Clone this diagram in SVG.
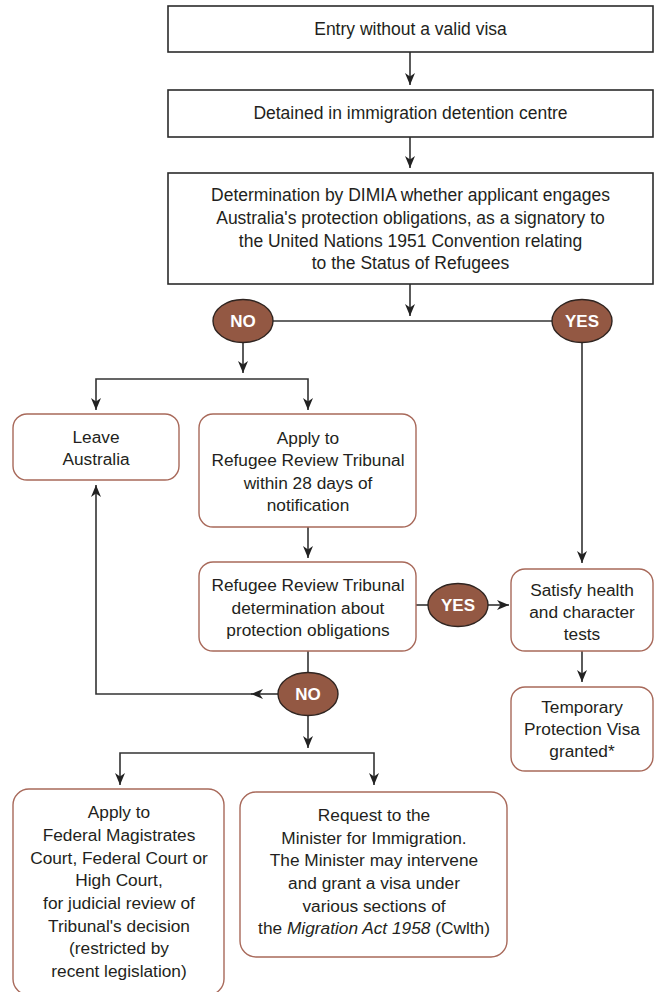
<svg xmlns="http://www.w3.org/2000/svg" width="664" height="992" viewBox="0 0 664 992">
<style>
  .box { fill: #ffffff; stroke: #2b2b2b; stroke-width: 1.6; }
  .rbox { fill: #ffffff; stroke: #a8695a; stroke-width: 1.4; }
  .oval { fill: #935843; stroke: #2f2420; stroke-width: 1.4; }
  .t { font-family: "Liberation Sans", Arial, sans-serif; font-size: 17.5px; fill: #231f20; text-anchor: middle; }
  .lt { font-family: "Liberation Sans", Arial, sans-serif; font-size: 17.3px; fill: #231f20; text-anchor: middle; }
  .ot { font-family: "Liberation Sans", Arial, sans-serif; font-size: 17px; font-weight: bold; fill: #ffffff; text-anchor: middle; }
  .ln { fill: none; stroke: #333333; stroke-width: 1.6; }
</style>
<defs>
  <marker id="ah" markerUnits="userSpaceOnUse" markerWidth="13" markerHeight="13" viewBox="0 0 13 13" refX="12" refY="6.5" orient="auto">
    <path d="M0,1.5 L12,6.5 L0,11.5 L3.5,6.5 z" fill="#222222"/>
  </marker>
</defs>

<g id="connectors">
  <path class="ln" d="M410,52 V85" marker-end="url(#ah)"/>
  <path class="ln" d="M410,137 V168" marker-end="url(#ah)"/>
  <path class="ln" d="M410,284 V316" marker-end="url(#ah)"/>
  <path class="ln" d="M273,321 H552"/>
  <path class="ln" d="M243,342 V373" marker-end="url(#ah)"/>
  <path class="ln" d="M200,379 H96 V410" marker-end="url(#ah)"/>
  <path class="ln" d="M200,379 H308 V410" marker-end="url(#ah)"/>
  <path class="ln" d="M582,342 V563" marker-end="url(#ah)"/>
  <path class="ln" d="M308,527 V558" marker-end="url(#ah)"/>
  <path class="ln" d="M416,605 H428"/>
  <path class="ln" d="M488,605 H509" marker-end="url(#ah)"/>
  <path class="ln" d="M582,651 V682" marker-end="url(#ah)"/>
  <path class="ln" d="M308,651 V672"/>
  <path class="ln" d="M278,694 H251" marker-end="url(#ah)"/>
  <path class="ln" d="M252,694 H96 V485" marker-end="url(#ah)"/>
  <path class="ln" d="M308,716 V748" marker-end="url(#ah)"/>
  <path class="ln" d="M250,753 H120 V785" marker-end="url(#ah)"/>
  <path class="ln" d="M250,753 H374 V785" marker-end="url(#ah)"/>
</g>

<g id="entry">
  <rect class="box" x="168" y="6" width="485" height="46"/>
  <text class="t" x="410.5" y="35">Entry without a valid visa</text>
</g>
<g id="detained">
  <rect class="box" x="168" y="90" width="485" height="47"/>
  <text class="t" x="410.5" y="119">Detained in immigration detention centre</text>
</g>
<g id="determination">
  <rect class="box" x="168" y="173" width="485" height="111"/>
  <text class="t" x="410.5" y="201">Determination by DIMIA whether applicant engages</text>
  <text class="t" x="410.5" y="224">Australia's protection obligations, as a signatory to</text>
  <text class="t" x="410.5" y="247">the United Nations 1951 Convention relating</text>
  <text class="t" x="410.5" y="269">to the Status of Refugees</text>
</g>
<g id="no1">
  <ellipse class="oval" cx="243" cy="321" rx="30" ry="21.5"/>
  <text class="ot" x="243" y="327">NO</text>
</g>
<g id="yes1">
  <ellipse class="oval" cx="582" cy="321" rx="30" ry="21.5"/>
  <text class="ot" x="582" y="327">YES</text>
</g>
<g id="leave">
  <rect class="rbox" x="13" y="414" width="166" height="66" rx="14"/>
  <text class="lt" x="96" y="443">Leave</text>
  <text class="lt" x="96" y="465">Australia</text>
</g>
<g id="apply-rrt">
  <rect class="rbox" x="199" y="414" width="217" height="113" rx="14"/>
  <text class="lt" x="308" y="444">Apply to</text>
  <text class="lt" x="308" y="466">Refugee Review Tribunal</text>
  <text class="lt" x="308" y="489">within 28 days of</text>
  <text class="lt" x="308" y="511">notification</text>
</g>
<g id="rrt-determination">
  <rect class="rbox" x="199" y="562" width="217" height="89" rx="14"/>
  <text class="lt" x="308" y="591">Refugee Review Tribunal</text>
  <text class="lt" x="308" y="614">determination about</text>
  <text class="lt" x="308" y="636">protection obligations</text>
</g>
<g id="yes2">
  <ellipse class="oval" cx="458" cy="605" rx="30" ry="21.5"/>
  <text class="ot" x="458" y="611">YES</text>
</g>
<g id="no2">
  <ellipse class="oval" cx="308" cy="694" rx="30" ry="21.5"/>
  <text class="ot" x="308" y="700">NO</text>
</g>
<g id="health">
  <rect class="rbox" x="511" y="569" width="142" height="82" rx="14"/>
  <text class="lt" x="582" y="596">Satisfy health</text>
  <text class="lt" x="582" y="618">and character</text>
  <text class="lt" x="582" y="640">tests</text>
</g>
<g id="tpv">
  <rect class="rbox" x="511" y="687" width="142" height="84" rx="14"/>
  <text class="lt" x="582" y="713">Temporary</text>
  <text class="lt" x="582" y="735">Protection Visa</text>
  <text class="lt" x="582" y="757">granted*</text>
</g>
<g id="courts">
  <rect class="rbox" x="13" y="789" width="211" height="206" rx="16"/>
  <text class="lt" x="119" y="818">Apply to</text>
  <text class="lt" x="119" y="841">Federal Magistrates</text>
  <text class="lt" x="119" y="864">Court, Federal Court or</text>
  <text class="lt" x="119" y="886">High Court,</text>
  <text class="lt" x="119" y="909">for judicial review of</text>
  <text class="lt" x="119" y="932">Tribunal's decision</text>
  <text class="lt" x="119" y="954">(restricted by</text>
  <text class="lt" x="119" y="977">recent legislation)</text>
</g>
<g id="minister">
  <rect class="rbox" x="240" y="792" width="267" height="165" rx="16"/>
  <text class="lt" x="374" y="821">Request to the</text>
  <text class="lt" x="374" y="844">Minister for Immigration.</text>
  <text class="lt" x="374" y="866">The Minister may intervene</text>
  <text class="lt" x="374" y="889">and grant a visa under</text>
  <text class="lt" x="374" y="912">various sections of</text>
  <text class="lt" x="374" y="934">the <tspan font-style="italic">Migration Act 1958</tspan> (Cwlth)</text>
</g>
</svg>
